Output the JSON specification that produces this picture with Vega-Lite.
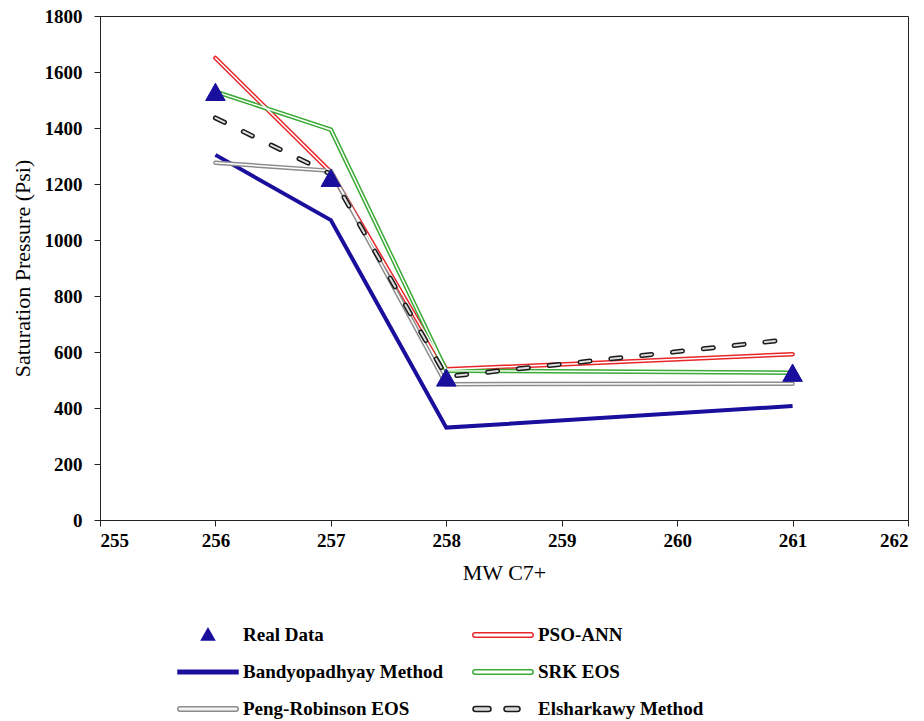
{
  "$schema": "https://vega.github.io/schema/vega-lite/v6.json",
  "width": 808,
  "height": 504,
  "autosize": {"type": "none"},
  "padding": {"left": 100, "top": 16, "right": 16, "bottom": 201},
  "background": "white",
  "config": {
    "view": {"stroke": "#222", "strokeWidth": 1},
    "font": "Liberation Serif",
    "axis": {
      "grid": false,
      "domainColor": "#222",
      "tickColor": "#222",
      "tickSize": 6,
      "labelColor": "#000",
      "titleColor": "#000",
      "labelFont": "Liberation Serif",
      "titleFont": "Liberation Serif",
      "labelFontWeight": "bold",
      "labelFontSize": 19,
      "titleFontSize": 22,
      "titleFontWeight": "normal"
    },
    "legend": {
      "labelLimit": 400,
      "padding": 0
    }
  },
  "data": {
    "values": [
      {"mw": 256, "p": 1525, "series": "Real Data"},
      {"mw": 257, "p": 1218, "series": "Real Data"},
      {"mw": 258, "p": 505, "series": "Real Data"},
      {"mw": 261, "p": 522, "series": "Real Data"},
      {"mw": 256, "p": 1650, "series": "PSO-ANN"},
      {"mw": 257, "p": 1242, "series": "PSO-ANN"},
      {"mw": 258, "p": 538, "series": "PSO-ANN"},
      {"mw": 261, "p": 592, "series": "PSO-ANN"},
      {"mw": 256, "p": 1304, "series": "Bandyopadhyay Method"},
      {"mw": 257, "p": 1071, "series": "Bandyopadhyay Method"},
      {"mw": 258, "p": 330, "series": "Bandyopadhyay Method"},
      {"mw": 261, "p": 407, "series": "Bandyopadhyay Method"},
      {"mw": 256, "p": 1530, "series": "SRK EOS"},
      {"mw": 257, "p": 1394, "series": "SRK EOS"},
      {"mw": 258, "p": 533, "series": "SRK EOS"},
      {"mw": 261, "p": 526, "series": "SRK EOS"},
      {"mw": 256, "p": 1276, "series": "Peng-Robinson EOS"},
      {"mw": 257, "p": 1247, "series": "Peng-Robinson EOS"},
      {"mw": 258, "p": 485, "series": "Peng-Robinson EOS"},
      {"mw": 261, "p": 487, "series": "Peng-Robinson EOS"},
      {"mw": 256, "p": 1436, "series": "Elsharkawy Method"},
      {"mw": 257, "p": 1235, "series": "Elsharkawy Method"},
      {"mw": 258, "p": 512, "series": "Elsharkawy Method"},
      {"mw": 261, "p": 646, "series": "Elsharkawy Method"}
    ]
  },
  "encoding": {
    "x": {
      "field": "mw",
      "type": "quantitative",
      "scale": {"domain": [255, 262], "nice": false, "zero": false},
      "axis": {
        "values": [255, 256, 257, 258, 259, 260, 261, 262],
        "format": "d",
        "title": "MW C7+",
        "labelPadding": 5,
        "titlePadding": 12
      }
    },
    "y": {
      "field": "p",
      "type": "quantitative",
      "scale": {"domain": [0, 1800], "nice": false},
      "axis": {
        "values": [0, 200, 400, 600, 800, 1000, 1200, 1400, 1600, 1800],
        "format": "d",
        "title": "Saturation Pressure (Psi)",
        "labelPadding": 12,
        "titlePadding": 10
      }
    }
  },
  "layer": [
    {
      "transform": [{"filter": "datum.series === 'Bandyopadhyay Method'"}],
      "mark": {"type": "line", "strokeWidth": 4, "strokeJoin": "miter"},
      "encoding": {
        "stroke": {
          "field": "series",
          "type": "nominal",
          "scale": {
            "domain": ["Real Data", "Bandyopadhyay Method", "Peng-Robinson EOS", "PSO-ANN", "SRK EOS", "Elsharkawy Method"],
            "range": ["#1a0f9c", "#1a0f9c", "#8c8c8c", "#e8262a", "#3aaa35", "#1a1a1a"]
          },
          "legend": {
            "title": null,
            "orient": "none",
            "legendX": 97,
            "legendY": 608,
            "columns": 2,
            "columnPadding": 25,
            "rowPadding": 16,
            "symbolSize": 400,
            "symbolStrokeWidth": 1.5,
            "labelOffset": 24,
            "labelFont": "Liberation Serif",
            "labelFontWeight": "bold",
            "labelFontSize": 19,
            "labelColor": "#000",
            "labelLimit": 400
          }
        }
      }
    },
    {
      "transform": [{"filter": "datum.series === 'PSO-ANN' || datum.series === 'SRK EOS' || datum.series === 'Peng-Robinson EOS'"}],
      "mark": {"type": "line", "strokeWidth": 4.5, "strokeJoin": "miter", "strokeCap": "round"},
      "encoding": {
        "stroke": {"field": "series", "type": "nominal"}
      }
    },
    {
      "transform": [{"filter": "datum.series === 'PSO-ANN' || datum.series === 'SRK EOS' || datum.series === 'Peng-Robinson EOS'"}],
      "mark": {"type": "line", "strokeWidth": 1.5, "stroke": "#ffffff", "strokeJoin": "miter", "strokeCap": "round"},
      "encoding": {
        "detail": {"field": "series", "type": "nominal"}
      }
    },
    {
      "transform": [{"filter": "datum.series === 'Elsharkawy Method'"}],
      "mark": {"type": "line", "strokeWidth": 5, "strokeDash": [10, 21], "strokeCap": "round"},
      "encoding": {
        "stroke": {"field": "series", "type": "nominal"}
      }
    },
    {
      "transform": [{"filter": "datum.series === 'Elsharkawy Method'"}],
      "mark": {"type": "line", "strokeWidth": 2, "strokeDash": [10, 21], "strokeCap": "round", "stroke": "#dddddd"},
      "encoding": {
        "detail": {"field": "series", "type": "nominal"}
      }
    },
    {
      "transform": [{"filter": "datum.series === 'Real Data'"}],
      "mark": {"type": "point", "size": 900, "filled": true, "opacity": 1, "strokeWidth": 1},
      "encoding": {
        "stroke": {"field": "series", "type": "nominal"},
        "fill": {
          "field": "series",
          "type": "nominal",
          "scale": {
            "domain": ["Real Data", "Bandyopadhyay Method", "Peng-Robinson EOS", "PSO-ANN", "SRK EOS", "Elsharkawy Method"],
            "range": ["#1a0f9c", "#1a0f9c", "#f2f2f2", "#ffffff", "#ffffff", "#d9d9d9"]
          },
          "legend": {
            "title": null,
            "orient": "none",
            "legendX": 97,
            "legendY": 608,
            "columns": 2,
            "columnPadding": 25,
            "rowPadding": 16,
            "symbolSize": 400,
            "symbolStrokeWidth": 1.5,
            "labelOffset": 24,
            "labelFont": "Liberation Serif",
            "labelFontWeight": "bold",
            "labelFontSize": 19,
            "labelColor": "#000",
            "labelLimit": 400
          }
        },
        "shape": {
          "field": "series",
          "type": "nominal",
          "scale": {
            "domain": ["Real Data", "Bandyopadhyay Method", "Peng-Robinson EOS", "PSO-ANN", "SRK EOS", "Elsharkawy Method"],
            "range": [
              "M0,-0.65L0.65,0.5L-0.65,0.5Z",
              "M-3,-0.17L3,-0.17L3,0.17L-3,0.17Z",
              "M-2.8,-0.22L2.8,-0.22A0.22,0.22 0 0 1 2.8,0.22L-2.8,0.22A0.22,0.22 0 0 1 -2.8,-0.22Z",
              "M-2.8,-0.22L2.8,-0.22A0.22,0.22 0 0 1 2.8,0.22L-2.8,0.22A0.22,0.22 0 0 1 -2.8,-0.22Z",
              "M-2.8,-0.22L2.8,-0.22A0.22,0.22 0 0 1 2.8,0.22L-2.8,0.22A0.22,0.22 0 0 1 -2.8,-0.22Z",
              "M-2.75,-0.25L-1.45,-0.25A0.25,0.25 0 0 1 -1.45,0.25L-2.75,0.25A0.25,0.25 0 0 1 -2.75,-0.25Z M0.35,-0.25L1.45,-0.25A0.25,0.25 0 0 1 1.45,0.25L0.35,0.25A0.25,0.25 0 0 1 0.35,-0.25Z"
            ]
          },
          "legend": {
            "title": null,
            "orient": "none",
            "legendX": 97,
            "legendY": 608,
            "columns": 2,
            "columnPadding": 25,
            "rowPadding": 16,
            "symbolSize": 400,
            "symbolStrokeWidth": 1.5,
            "labelOffset": 24,
            "labelFont": "Liberation Serif",
            "labelFontWeight": "bold",
            "labelFontSize": 19,
            "labelColor": "#000",
            "labelLimit": 400
          }
        }
      }
    }
  ]
}
